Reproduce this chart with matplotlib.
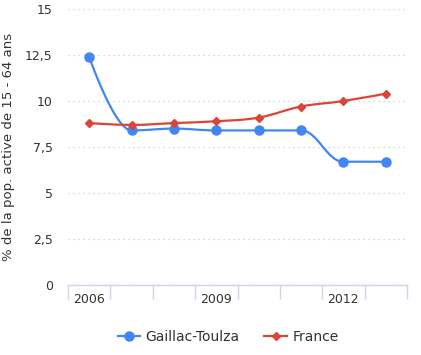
import matplotlib.pyplot as plt
from matplotlib.path import Path
from matplotlib.patches import PathPatch
from matplotlib.lines import Line2D

years = ["2006", "2007", "2008", "2009", "2010", "2011", "2012", "2013"]
gaillac = [12.4, 8.4, 8.5, 8.4, 8.4, 8.4, 6.7, 6.7]
france = [8.8, 8.7, 8.8, 8.9, 9.1, 9.7, 10.0, 10.4]
y_ticks = [0, 2.5, 5, 7.5, 10, 12.5, 15]
shown_years = ["2006", "2009", "2012"]

BLUE = "#4285f4"
RED = "#db4437"
TEXT = "#333333"


def spline_path(xs, ys, smoothing=1.5):
    # same idea as a highcharts "spline" series
    n = len(xs)
    left = [None] * n
    right = [None] * n
    for i in range(1, n - 1):
        px, py = xs[i], ys[i]
        lx, ly = xs[i - 1], ys[i - 1]
        nx, ny = xs[i + 1], ys[i + 1]
        d = smoothing + 1
        lcx = (smoothing * px + lx) / d
        lcy = (smoothing * py + ly) / d
        rcx = (smoothing * px + nx) / d
        rcy = (smoothing * py + ny) / d
        if rcx != lcx:
            corr = (rcy - lcy) * (rcx - px) / (rcx - lcx) + py - rcy
            lcy += corr
            rcy += corr
        if lcy > max(ly, py):
            lcy = max(ly, py)
            rcy = 2 * py - lcy
        elif lcy < min(ly, py):
            lcy = min(ly, py)
            rcy = 2 * py - lcy
        if rcy > max(py, ny):
            rcy = max(py, ny)
            lcy = 2 * py - rcy
        elif rcy < min(py, ny):
            rcy = min(py, ny)
            lcy = 2 * py - rcy
        left[i] = (lcx, lcy)
        right[i] = (rcx, rcy)

    verts = [(xs[0], ys[0])]
    codes = [Path.MOVETO]
    for i in range(1, n):
        c1 = right[i - 1] or (xs[i - 1], ys[i - 1])
        c2 = left[i] or (xs[i], ys[i])
        verts += [c1, c2, (xs[i], ys[i])]
        codes += [Path.CURVE4] * 3
    return Path(verts, codes)


fig = plt.figure(figsize=(4.21, 3.55), dpi=100)
ax = fig.add_axes([68 / 421, 70 / 355, 339 / 421, 276 / 355])

x = list(range(len(years)))

for vals, color, marker, ms in [(gaillac, BLUE, "o", 6.5), (france, RED, "D", 4.2)]:
    ax.add_patch(PathPatch(spline_path(x, vals), facecolor="none",
                           edgecolor=color, lw=1.6, zorder=3))
    ax.plot(x, vals, ls="none", marker=marker, ms=ms, color=color, zorder=4)

ax.set_xlim(-0.5, len(years) - 0.5)
ax.set_ylim(0, 15)

ax.set_yticks(y_ticks)
ax.set_yticklabels([f"{t:g}".replace(".", ",") for t in y_ticks])
ax.tick_params(axis="y", length=0, pad=11, labelsize=9, labelcolor=TEXT)
ax.grid(axis="y", color="#cccccc", ls=(0, (1, 3)), lw=0.9)

# category boundaries as ticks, labels in the middle
ax.set_xticks([i - 0.5 for i in range(len(years) + 1)])
ax.set_xticklabels([])
ax.tick_params(axis="x", which="major", length=10, color="#ccd6eb", width=1)
ax.set_xticks([years.index(y) for y in shown_years], minor=True)
ax.set_xticklabels(shown_years, minor=True)
ax.tick_params(axis="x", which="minor", length=0, pad=6, labelsize=9, labelcolor=TEXT)

for side in ["top", "right", "left"]:
    ax.spines[side].set_visible(False)
ax.spines["bottom"].set_color("#ccd6eb")
ax.spines["bottom"].set_linewidth(1)

ax.set_ylabel("% de la pop. active de 15 - 64 ans", fontsize=9.5, color=TEXT)
ax.yaxis.set_label_coords(-53 / 339, 0.5)

handles = [
    Line2D([], [], color=BLUE, lw=1.6, marker="o", ms=6.5),
    Line2D([], [], color=RED, lw=1.6, marker="D", ms=4.2),
]
fig.legend(handles, ["Gaillac-Toulza", "France"], loc="center", bbox_to_anchor=(228 / 421, 1 - 337 / 355),
           ncol=2, frameon=False, fontsize=10, handlelength=1.6, columnspacing=1.8,
           handletextpad=0.4, labelcolor=TEXT)

plt.savefig("out.png", dpi=100)
